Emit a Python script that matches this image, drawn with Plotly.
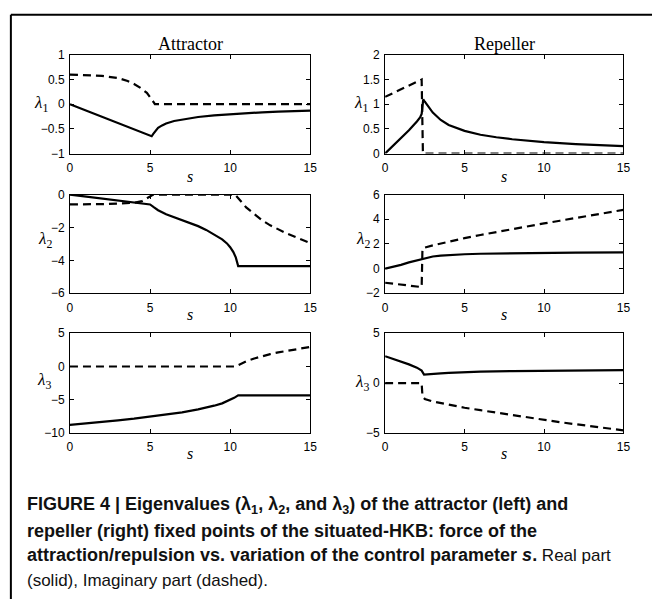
import plotly.graph_objects as go

W, H = 659, 606

# ---------------- data ----------------
# Attractor, lambda1
s_a1_re = [0, 1, 2, 3, 4, 5, 5.1, 5.2, 5.35, 5.5, 5.75, 6, 6.5, 7, 8, 9, 10, 11, 12, 13, 14, 15]
a1_re = [0, -0.127, -0.255, -0.382, -0.51, -0.637, -0.65, -0.6, -0.53, -0.48, -0.43, -0.39,
         -0.34, -0.31, -0.26, -0.225, -0.2, -0.18, -0.165, -0.15, -0.14, -0.13]
s_a1_im = [0, 1, 2, 3, 3.6, 4, 4.4, 4.8, 5, 5.2, 5.3, 15]
a1_im = [0.6, 0.595, 0.575, 0.53, 0.47, 0.41, 0.33, 0.23, 0.15, 0.05, 0, 0]

# Repeller, lambda1
s_r1_re = [0, 0.5, 1, 1.5, 2, 2.2, 2.3, 2.35, 2.4, 2.5, 2.75, 3, 3.5, 4, 5, 6, 7, 8, 10, 12, 15]
r1_re = [0, 0.15, 0.3, 0.47, 0.65, 0.73, 0.8, 0.95, 1.1, 1.05, 0.93, 0.83, 0.68, 0.58, 0.46,
         0.38, 0.33, 0.29, 0.23, 0.19, 0.15]
s_r1_im = [0, 2.3, 2.38, 15]
r1_im = [1.15, 1.5, 0, 0]

# Attractor, lambda2
s_a2_re = [0, 1, 2, 3, 4, 5, 5.25, 5.5, 6, 6.5, 7, 7.5, 8, 8.5, 9, 9.5, 9.8, 10, 10.2, 10.35,
           10.5, 11, 15]
a2_re = [0, -0.12, -0.24, -0.36, -0.48, -0.6, -0.78, -0.95, -1.2, -1.38, -1.55, -1.72, -1.92,
         -2.15, -2.42, -2.72, -2.97, -3.2, -3.5, -3.82, -4.35, -4.35, -4.35]
s_a2_im = [0, 1, 2, 3, 3.5, 4, 4.5, 4.8, 5, 5.2, 10.3, 10.5, 10.75, 11, 11.5, 12, 12.5, 13,
           13.5, 14, 14.5, 15]
a2_im = [-0.6, -0.6, -0.58, -0.55, -0.53, -0.5, -0.4, -0.25, -0.12, 0, 0, -0.2, -0.5, -0.78,
         -1.2, -1.57, -1.87, -2.12, -2.35, -2.55, -2.76, -2.95]

# Repeller, lambda2
s_r2_re = [0, 0.5, 1, 1.5, 2, 2.5, 3, 3.5, 4, 5, 6, 8, 10, 12, 15]
r2_re = [0, 0.12, 0.3, 0.5, 0.68, 0.85, 0.98, 1.05, 1.1, 1.16, 1.2, 1.25, 1.28, 1.3, 1.32]
s_r2_im = [0, 2.3, 2.35, 2.5, 3, 4, 5, 6, 7, 8, 9, 10, 11, 12, 13, 14, 15]
r2_im = [-1.15, -1.5, 1.6, 1.7, 1.88, 2.2, 2.47, 2.72, 2.97, 3.2, 3.44, 3.66, 3.88, 4.1, 4.32,
         4.54, 4.76]

# Attractor, lambda3
s_a3_re = [0, 1, 2, 3, 4, 5, 6, 7, 8, 8.5, 9, 9.5, 10, 10.25, 10.5, 11, 15]
a3_re = [-8.8, -8.6, -8.35, -8.1, -7.85, -7.55, -7.25, -6.9, -6.45, -6.2, -5.9, -5.55, -5.05,
         -4.72, -4.35, -4.35, -4.35]
s_a3_im = [0, 10.3, 10.5, 10.75, 11, 11.5, 12, 12.5, 13, 13.5, 14, 14.5, 15]
a3_im = [0, 0, 0.2, 0.5, 0.78, 1.2, 1.57, 1.87, 2.12, 2.35, 2.55, 2.76, 2.95]

# Repeller, lambda3
s_r3_re = [0, 0.5, 1, 1.5, 2, 2.3, 2.45, 2.6, 3, 3.5, 4, 5, 6, 8, 10, 12, 15]
r3_re = [2.7, 2.45, 2.18, 1.88, 1.55, 1.25, 0.85, 0.86, 0.92, 0.98, 1.03, 1.1, 1.15, 1.2, 1.23,
         1.26, 1.3]
s_r3_im = [0, 2.3, 2.35, 2.5, 3, 4, 5, 6, 7, 8, 9, 10, 11, 12, 13, 14, 15]
r3_im = [0, 0, -1.3, -1.6, -1.85, -2.18, -2.47, -2.72, -2.97, -3.22, -3.46, -3.7, -3.92,
         -4.13, -4.34, -4.55, -4.74]

x_ticks = [0, 5, 10, 15]
y_ticks = [
    [-1, -0.5, 0, 0.5, 1],
    [0, 0.5, 1, 1.5, 2],
    [-6, -4, -2, 0],
    [-2, 0, 2, 4, 6],
    [-10, -5, 0, 5],
    [-5, 0, 5],
]
y_ranges = [[-1, 1], [0, 2], [-6, 0], [-2, 6], [-10, 5], [-5, 5]]
col_titles = ["Attractor", "Repeller"]
lambda_labels = ["<i>λ</i><sub>1</sub>", "<i>λ</i><sub>1</sub>", "<i>λ</i><sub>2</sub>",
                 "<i>λ</i><sub>2</sub>", "<i>λ</i><sub>3</sub>", "<i>λ</i><sub>3</sub>"]

panels = [
    (s_a1_re, a1_re, s_a1_im, a1_im),
    (s_r1_re, r1_re, s_r1_im, r1_im),
    (s_a2_re, a2_re, s_a2_im, a2_im),
    (s_r2_re, r2_re, s_r2_im, r2_im),
    (s_a3_re, a3_re, s_a3_im, a3_im),
    (s_r3_re, r3_re, s_r3_im, r3_im),
]

# ---------------- layout geometry (pixels) ----------------
col_px = [(68, 312), (388, 630)]
row_px = [(49, 150), (192, 293), (334, 436)]

def px_x(p):
    return p / W

def px_y(p):
    return 1 - p / H

fig = go.Figure()
layout = dict(
    width=W, height=H, margin=dict(l=0, r=0, t=0, b=0),
    paper_bgcolor="white", plot_bgcolor="white", showlegend=False,
)

tick_font = dict(family="Liberation Sans, Arial, sans-serif", size=12, color="black")

def fmt(v):
    s = ("%g" % v)
    return s.replace("-", "\u2212")

for i, (sr, yr, si, yi) in enumerate(panels):
    r, c = divmod(i, 2)
    n = i + 1
    xa = "x" if n == 1 else f"x{n}"
    ya = "y" if n == 1 else f"y{n}"
    fig.add_trace(go.Scatter(x=sr, y=yr, mode="lines", xaxis=xa, yaxis=ya,
                             line=dict(color="black", width=2.2)))
    fig.add_trace(go.Scatter(x=si, y=yi, mode="lines", xaxis=xa, yaxis=ya,
                             line=dict(color="black", width=2.2, dash="8px,5px")))
    common = dict(showline=True, linecolor="black", linewidth=1, mirror="allticks",
                  ticks="inside", ticklen=4, tickcolor="black", tickwidth=1,
                  showgrid=False, zeroline=False, tickfont=tick_font, fixedrange=True)
    layout["xaxis" if n == 1 else f"xaxis{n}"] = dict(
        domain=[px_x(col_px[c][0]), px_x(col_px[c][1])], range=[0, 15],
        tickvals=x_ticks, ticktext=[fmt(v) for v in x_ticks],
        ticklabelstandoff=3, anchor=ya, **common)
    layout["yaxis" if n == 1 else f"yaxis{n}"] = dict(
        domain=[px_y(row_px[r][1]), px_y(row_px[r][0])], range=y_ranges[i],
        tickvals=y_ticks[i], ticktext=[fmt(v) for v in y_ticks[i]],
        ticklabelstandoff=2, anchor=xa, **common)

annotations = []
serif = "Liberation Serif, Times New Roman, serif"
# column titles
for c, t in enumerate(col_titles):
    annotations.append(dict(text=t, x=px_x((col_px[c][0] + col_px[c][1]) / 2), y=px_y(38),
                            xref="paper", yref="paper", showarrow=False,
                            xanchor="center", yanchor="middle",
                            font=dict(family=serif, size=18, color="black")))
# lambda labels
lam_pos = [(39, 99), (364, 99), (43, 239), (366, 238), (42, 383), (365, 385)]
for (px, py), t in zip(lam_pos, lambda_labels):
    annotations.append(dict(text=t, x=px_x(px), y=px_y(py), xref="paper", yref="paper",
                            showarrow=False, xanchor="center", yanchor="middle",
                            font=dict(family=serif, size=17, color="black")))
# s labels
s_rows = [174, 315, 457]
for r in range(3):
    for c in range(2):
        annotations.append(dict(text="<i>s</i>",
                                x=px_x((col_px[c][0] + col_px[c][1]) / 2), y=px_y(s_rows[r]),
                                xref="paper", yref="paper", showarrow=False,
                                xanchor="center", yanchor="middle",
                                font=dict(family=serif, size=16, color="black")))

# caption
cap_family = "Liberation Sans Narrow, Arial Narrow, Liberation Sans, sans-serif"
caption_lines = [
    "<b>FIGURE 4 | Eigenvalues (λ<sub>1</sub>, λ<sub>2</sub>, and λ<sub>3</sub>) of the attractor (left) and</b>",
    "<b>repeller (right) fixed points of the situated-HKB: force of the</b>",
    "<b>attraction/repulsion vs. variation of the control parameter <i>s</i>.</b>"
    "<span style=\"font-size:17px\"> Real part</span>",
    "(solid), Imaginary part (dashed).",
]
cap_sizes = [18, 18, 18, 17]
cap_y = [510, 536, 561, 587]
for t, py, fs in zip(caption_lines, cap_y, cap_sizes):
    annotations.append(dict(text=t, x=px_x(22), y=px_y(py), xref="paper", yref="paper",
                            showarrow=False, xanchor="left", yanchor="middle",
                            align="left", font=dict(family=cap_family, size=fs,
                                                    color="#111111")))
layout["annotations"] = annotations

# frame lines
layout["shapes"] = [
    dict(type="line", xref="paper", yref="paper", x0=px_x(8), x1=1.0, y0=px_y(8), y1=px_y(8),
         line=dict(color="black", width=2)),
    dict(type="line", xref="paper", yref="paper", x0=px_x(8), x1=px_x(8), y0=px_y(8), y1=0,
         line=dict(color="black", width=2)),
]

fig.update_layout(**layout)
fig.write_html("out.html")
